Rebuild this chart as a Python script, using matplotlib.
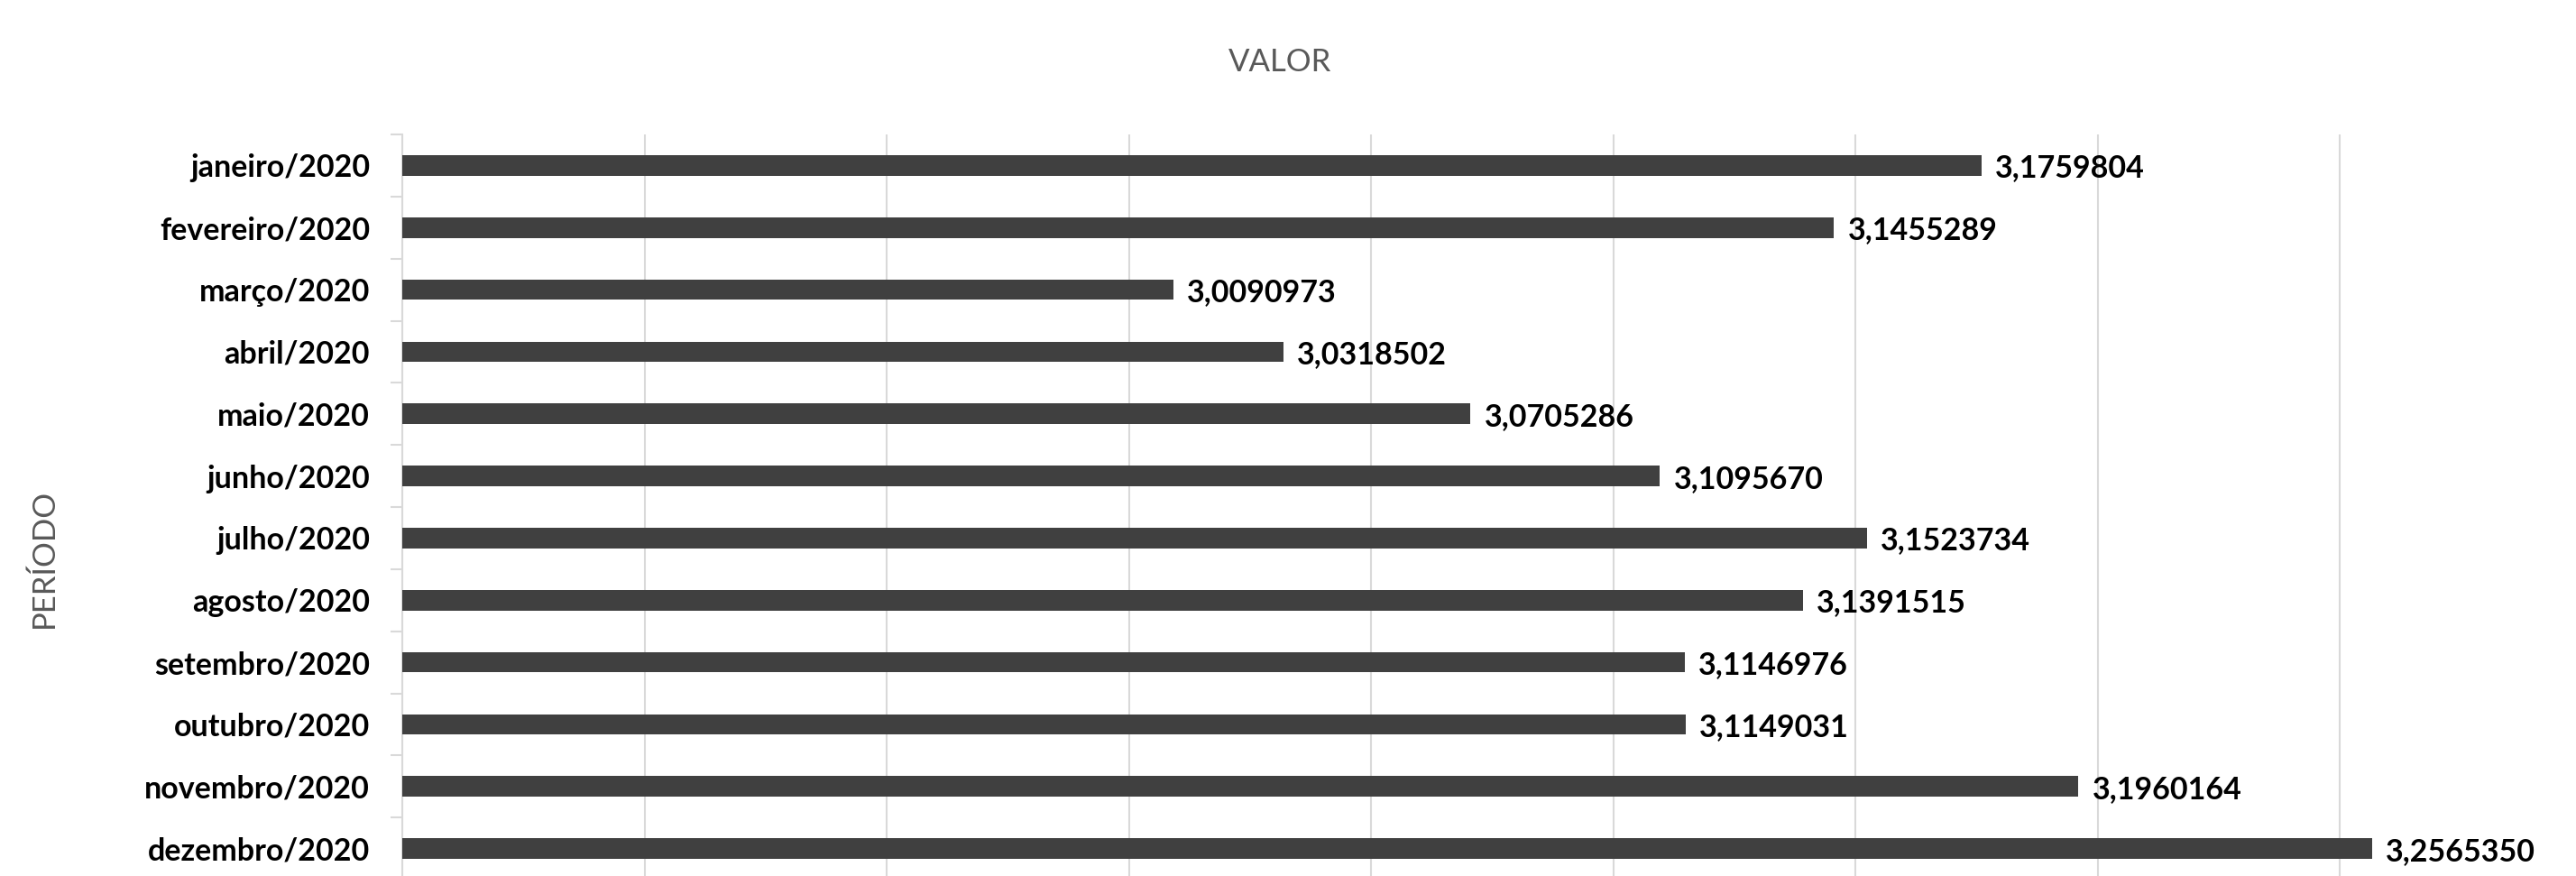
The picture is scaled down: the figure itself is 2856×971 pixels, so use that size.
import matplotlib
matplotlib.use("Agg")
import matplotlib.pyplot as plt
from matplotlib.ticker import MultipleLocator, FixedLocator, NullFormatter

categories = ["janeiro/2020", "fevereiro/2020", "março/2020", "abril/2020", "maio/2020",
              "junho/2020", "julho/2020", "agosto/2020", "setembro/2020", "outubro/2020",
              "novembro/2020", "dezembro/2020"]
values = [3.1759804, 3.1455289, 3.0090973, 3.0318502, 3.0705286, 3.1095670,
          3.1523734, 3.1391515, 3.1146976, 3.1149031, 3.1960164, 3.2565350]
title = "VALOR"
ylabel = "PERÍODO"

plt.rcParams['font.family'] = ['Lato', 'DejaVu Sans']

W, H = 2856, 971
fig = plt.figure(figsize=(W / 100, H / 100), dpi=100)
left_px, right_px, top_px, bottom_px = 446, 2863, 149, 975
ax = fig.add_axes([left_px / W, 1 - bottom_px / H, (right_px - left_px) / W, (bottom_px - top_px) / H])

xmin, xmax = 2.85, 3.30
ypos = list(range(len(categories)))
ax.barh(ypos, [v - xmin for v in values], left=xmin, height=0.33, color="#404040", zorder=3)
ax.set_xlim(xmin, xmax)
ax.set_ylim(len(categories) - 0.5, -0.5)

ax.xaxis.set_major_locator(MultipleLocator(0.05))
ax.xaxis.set_major_formatter(NullFormatter())
ax.tick_params(axis='x', length=0)
ax.grid(axis='x', color="#d9d9d9", linewidth=1.5, zorder=0)

ax.set_yticks(ypos)
ax.set_yticklabels(categories, fontsize=24.5, fontweight='bold', color='black')
ax.yaxis.set_minor_locator(FixedLocator([i - 0.5 for i in range(len(categories) + 1)]))
ax.tick_params(axis='y', which='major', length=0, pad=26)
ax.tick_params(axis='y', which='minor', length=9.5, width=1.5, color="#d9d9d9")

for s in ['top', 'right', 'bottom']:
    ax.spines[s].set_visible(False)
ax.spines['left'].set_color("#d9d9d9")
ax.spines['left'].set_linewidth(1.5)

for y, v in zip(ypos, values):
    ax.annotate(f"{v:.7f}".replace('.', ','), xy=(v, y), xytext=(11, 0),
                textcoords='offset points', va='center_baseline', ha='left',
                fontsize=24.5, fontweight='bold', color='black', zorder=4)

fig.text(1419 / W, 1 - 66 / H, title, ha='center', va='center_baseline', fontsize=25, color="#595959")
fig.text(49 / W, 1 - 619 / H, ylabel, ha='center', va='center', rotation=90, fontsize=25, color="#595959")

fig.savefig("out.png", dpi=100, facecolor='white')
